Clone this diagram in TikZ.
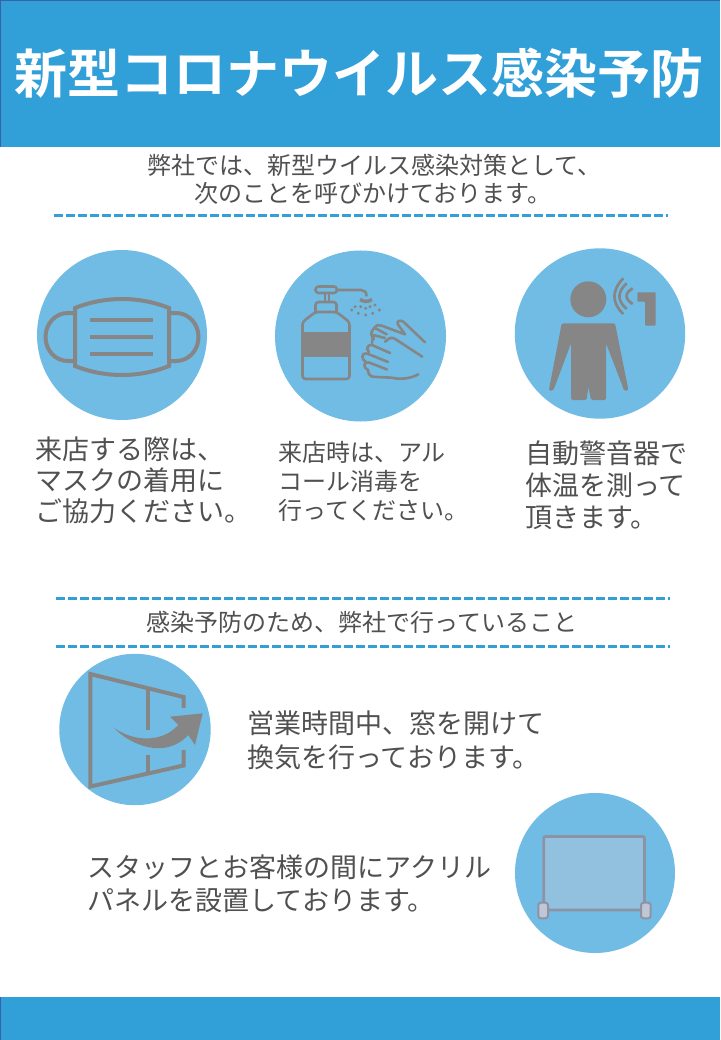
\documentclass[tikz,border=0pt]{standalone}
\usepackage{fontspec}
\setmainfont{Noto Sans CJK JP}
\newfontfamily\jpbold{Noto Sans CJK JP Bold}
\definecolor{bandblue}{HTML}{319FD8}
\definecolor{discblue}{HTML}{71BCE4}
\definecolor{icongray}{HTML}{868686}
\definecolor{txtgray}{HTML}{505050}
\definecolor{edgeblue}{HTML}{3A62A8}
\definecolor{glassblue}{HTML}{92C1DF}
\definecolor{framegray}{HTML}{8E93A4}
\definecolor{footgray}{HTML}{BFC7D6}
\tikzset{
  x=1pt,y=-1pt,
  disc/.style={fill=discblue,draw=none},
  rule/.style={draw=bandblue,line width=3pt,dash pattern=on 9pt off 3pt},
  ink/.style={draw=icongray,line width=4pt,line join=miter},
  thin ink/.style={draw=icongray,line width=2.6pt,line join=round,line cap=round},
  msg/.style={inner sep=0pt,text=txtgray,align=left,anchor=west},
  foot/.style={draw=framegray,fill=footgray,line width=2pt,rounded corners=2.5pt},
  sz/.style n args={2}{font=\fontsize{#1}{#2}\selectfont},
}
\begin{document}
\begin{tikzpicture}
\useasboundingbox (0,0) rectangle (720,1040);
\fill[white] (0,0) rectangle (720,1040);
% bands
\fill[bandblue] (0,0) rectangle (720,147);
\draw[edgeblue,line width=1pt] (0.5,147) -- (0.5,0.5) -- (720,0.5);
\fill[bandblue] (0,997) rectangle (720,1040);
\draw[edgeblue,line width=1pt] (0.5,997) -- (0.5,1040);
\node[inner sep=0pt,text=white] (title) at (358.5,73.5) {\jpbold\fontsize{53}{53}\selectfont 新型コロナウイルス感染予防};
% intro
\node[msg,sz={24}{28}] (intro1) at (147,165) {弊社では、新型ウイルス感染対策として、};
\node[msg,sz={24}{28}] (intro2) at (194,193.5) {次のことを呼びかけております。};
\coordinate (r1a) at (54,215.5); \coordinate (r1b) at (668,215.5);
\draw[rule] (r1a) -- (r1b);
% discs
\fill[disc] (122,335) circle (85);
\fill[disc] (360.5,336) circle (85.5);
\fill[disc] (600,333.5) circle (85.2);
\fill[disc] (135,729.5) circle (75.7);
\fill[disc] (595,873) circle (80);
% mask
\draw[ink] (75,308) .. controls (105,296) and (139,296) .. (169,308) -- (169,366) .. controls (139,378) and (105,378) .. (75,366) -- cycle;
\draw[ink] (75,313) -- (68,313) .. controls (55,313) and (45.5,324) .. (45.5,337) .. controls (45.5,350) and (55,361) .. (68,361) -- (75,361);
\draw[ink] (169,313) -- (176,313) .. controls (189,313) and (198.5,324) .. (198.5,337) .. controls (198.5,350) and (189,361) .. (176,361) -- (169,361);
\fill[icongray] (90,318) rectangle (153,322);
\fill[icongray] (90,335) rectangle (153,339);
\fill[icongray] (90,352) rectangle (153,356);
% sanitizer bottle
\begin{scope}[thin ink]
\draw[rounded corners=3pt] (315.5,286.5) rectangle (337,293);
\draw (337,290) -- (361,290) .. controls (364,290) and (366.5,292) .. (366.5,295.5);
\draw (325,293) -- (325,302); \draw (329,293) -- (329,302);
\draw[rounded corners=3pt] (315.5,312) -- (315.5,302) -- (336.5,302) -- (336.5,312);
\draw[rounded corners=3pt] (315.5,312) -- (336.5,312) -- (349.5,322) -- (349.5,379) -- (302.5,379) -- (302.5,322) -- cycle;
\end{scope}
\fill[icongray] (302.5,332) rectangle (349.5,357);
% spray
\draw[icongray,line width=3.5pt] (360,299.5) .. controls (364,302) and (368,302) .. (372,299.5);
\foreach \p in {(351.7,310),(355,306.7),(358.3,313.3),(360.7,306.7),(365.7,308.3),(365.7,315),(370,306.7),(372.7,313.3),(375,305),(379.3,310)}
  \fill[icongray] \p circle (1.7);
% hands
\begin{scope}[thin ink]
\draw (425,342.3) -- (403.3,321.7) .. controls (400,319.5) and (396,321) .. (398,324.5) -- (405,334.3) -- (381.7,325.7) .. controls (379,324.5) and (376,325) .. (375,327) -- (372,331) .. controls (370,334) and (372,337) .. (374,339);
\draw (375,328) -- (386.7,334.3);
\draw (372,343) -- (373,335) -- (385,338);
\draw (385,341.7) -- (390,338) .. controls (392,337) and (395,338.5) .. (396.7,340) -- (422.3,356.7);
\draw (390,353) -- (372,345) .. controls (367,344) and (366,350) .. (369,352);
\draw (388,362) -- (367,353.5) .. controls (361,352) and (361,360) .. (366,362);
\draw (387,369.5) -- (369,362.5) .. controls (363,361) and (363,368) .. (368,370);
\draw (368,370) .. controls (368,373) and (369,376) .. (372,376.7) -- (391.7,377.7) .. controls (400,379.5) and (410,379) .. (418.3,374.3);
\end{scope}
% person
\fill[icongray] (588.3,299.3) circle (18);
\fill[icongray,rounded corners=1.5pt] (561.7,323.3) -- (615,323.3) -- (628,388) .. controls (628,391) and (624,391) .. (623.3,388) -- (606,343.3) -- (606,400) -- (591,400) -- (588.3,386.7) -- (586.7,400) -- (571,400) -- (571,343.3) -- (554.3,388) .. controls (553,391) and (549,391) .. (549.3,388) -- cycle;
\draw[icongray,line width=2.7pt] (623.3,278.3) .. controls (611.5,290) and (611.5,303) .. (623.3,314);
\draw[icongray,line width=2.7pt] (626.7,283.3) .. controls (617,292) and (617,301) .. (626.7,309);
\draw[icongray,line width=2.7pt] (632.7,288.3) .. controls (624.5,293) and (624.5,299) .. (632.7,304);
\fill[icongray,rounded corners=1pt] (637.3,292.3) -- (655.7,292.3) -- (655.7,325.7) -- (645,325.7) -- (645,301.7) -- (637.3,301.7) -- cycle;
% window
\draw[draw=icongray,line width=4pt,line join=miter] (183.5,708) -- (183.5,697) -- (90.3,674) -- (90.3,786.5) -- (183.5,765.5) -- (183.5,750);
\fill[icongray] (146,687) rectangle (150,730);
\fill[icongray] (146,755) rectangle (150,775);
\fill[icongray] (113.3,727.3) .. controls (130,745) and (165,760) .. (188.3,735) -- (195,745) -- (202.7,713.3) -- (170,716.7) -- (178.3,725) .. controls (160,745) and (130,740) .. (113.3,727.3) -- cycle;
% panel
\draw[draw=framegray,fill=glassblue,line width=2.8pt,rounded corners=2pt] (543.7,836.5) rectangle (644.5,910);
\draw[foot] (538.3,902.7) rectangle (548,918.3);
\draw[foot] (641,902.7) rectangle (650.7,918.3);
% captions
\node[msg,sz={27}{31}] (c1) at (35.5,480) {来店する際は、\\マスクの着用に\\ご協力ください。};
\node[msg,sz={24}{29}] (c2) at (278,481) {来店時は、アル\\コール消毒を\\行ってください。};
\node[msg,sz={27}{32}] (c3) at (525,485) {自動警音器で\\体温を測って\\頂きます。};
\coordinate (r2a) at (56,598); \coordinate (r2b) at (670,598);
\draw[rule] (r2a) -- (r2b);
\node[msg,sz={24}{28}] (sec) at (146,622) {感染予防のため、弊社で行っていること};
\coordinate (r3a) at (56,646); \coordinate (r3b) at (670,646);
\draw[rule] (r3a) -- (r3b);
\node[msg,sz={27}{34}] (c4) at (247,740) {営業時間中、窓を開けて\\換気を行っております。};
\node[msg,sz={27}{33}] (c5) at (87.5,884) {スタッフとお客様の間にアクリル\\パネルを設置しております。};
\end{tikzpicture}
\end{document}
